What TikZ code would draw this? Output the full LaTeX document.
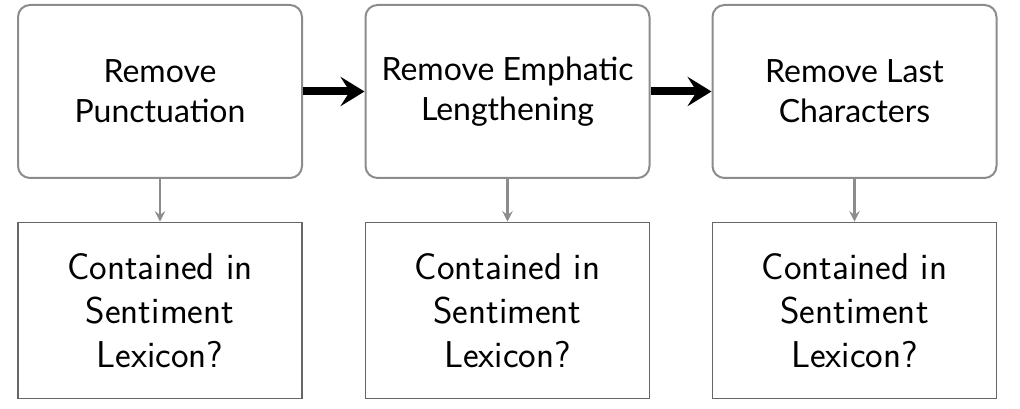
\documentclass[tikz,border=0pt]{standalone}
\usepackage{fontspec}
\newfontfamily\latofont{Lato}
\usetikzlibrary{arrows.meta}
\tikzset{
  procbox/.style={draw=black!45, line width=1.5pt, rounded corners=9pt, minimum width=284*0.75pt, minimum height=173*0.75pt, align=center, font=\latofont\fontsize{24}{30}\selectfont, inner sep=0pt},
  checkbox/.style={draw=black!60, line width=1.3pt, minimum width=284*0.75pt, minimum height=176*0.75pt, align=center, font=\sffamily\fontsize{28}{33}\selectfont, inner sep=0pt},
  flow/.style={line width=6pt, -{Stealth[length=18pt, width=22pt, inset=7pt]}},
  test/.style={draw=black!45, line width=1.6pt, -{Stealth[length=8pt, width=8pt, inset=3pt]}}
}
\begin{document}
\begin{tikzpicture}[x=0.75pt,y=-0.75pt]
\useasboundingbox (0,0) rectangle (1020,409);
\node[procbox] (p1) at (160,91.5) {Remove\\Punctuation};
\node[procbox] (p2) at (507.5,91.5) {Remove Emphatic\\Lengthening};
\node[procbox] (p3) at (854.5,91.5) {Remove Last\\Characters};
\node[checkbox] (c1) at (160,310.5) {Contained in\\Sentiment\\Lexicon?};
\node[checkbox] (c2) at (507.5,310.5) {Contained in\\Sentiment\\Lexicon?};
\node[checkbox] (c3) at (854.5,310.5) {Contained in\\Sentiment\\Lexicon?};
\draw[flow] (p1) -- (p2);
\draw[flow] (p2) -- (p3);
\draw[test] (p1) -- (c1);
\draw[test] (p2) -- (c2);
\draw[test] (p3) -- (c3);
\end{tikzpicture}
\end{document}
